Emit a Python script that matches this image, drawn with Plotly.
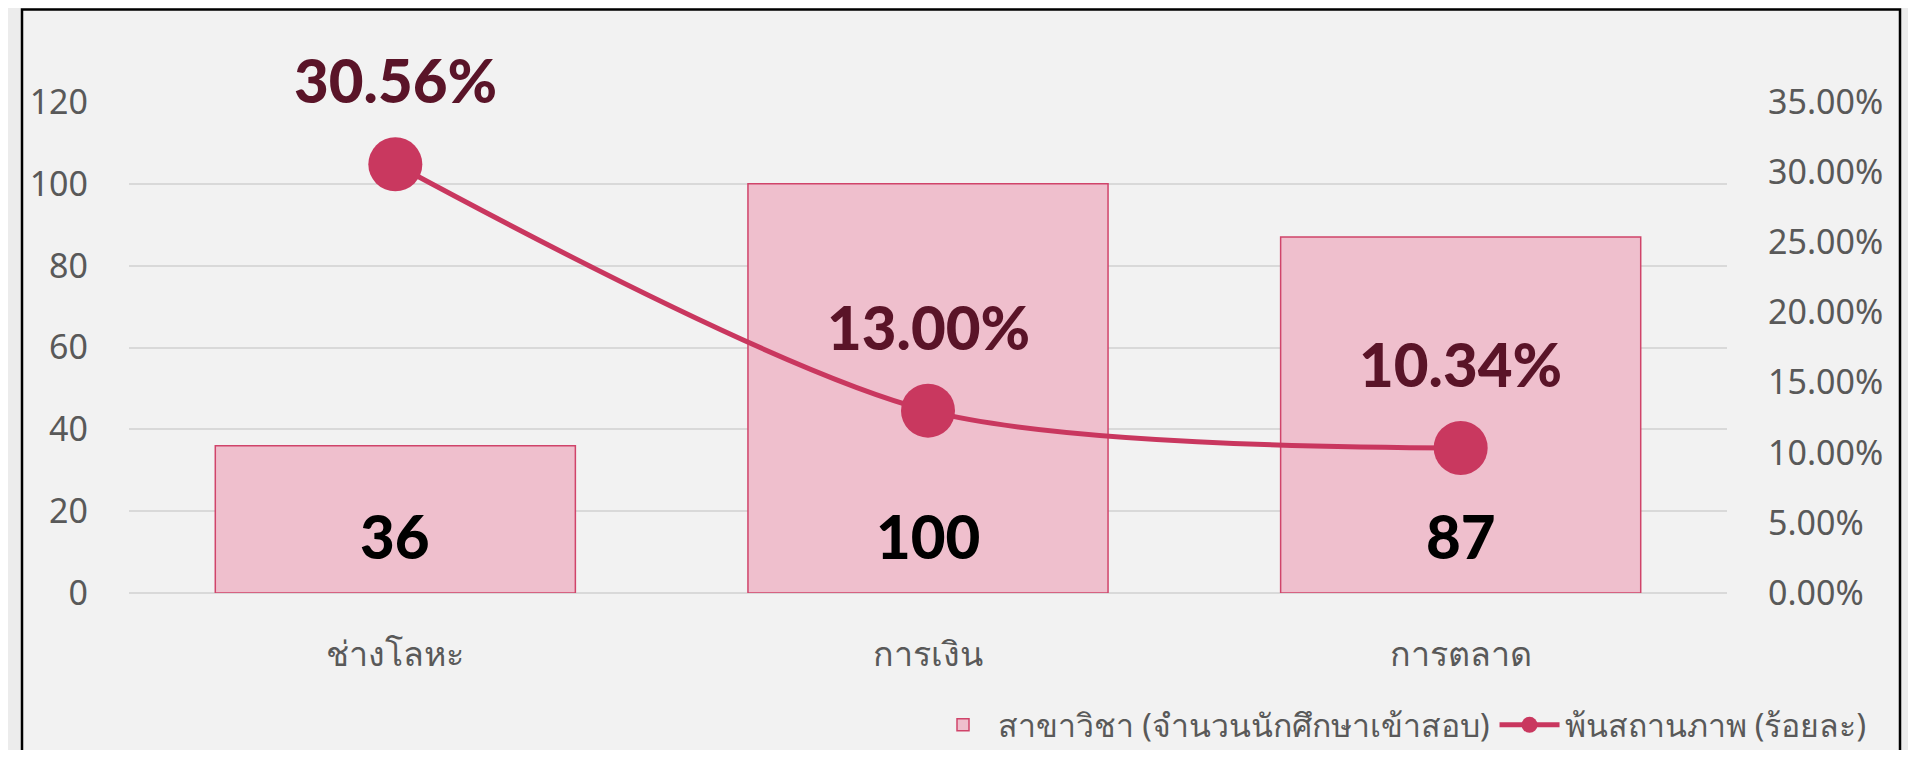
import plotly.graph_objects as go

categories = ["ช่างโลหะ", "การเงิน", "การตลาด"]
students = [36, 100, 87]
employment_rate = [0.3056, 0.13, 0.1034]
bar_name = "สาขาวิชา (จำนวนนักศึกษาเข้าสอบ)"
line_name = "พ้นสถานภาพ (ร้อยละ)"
left_ticks = [0, 20, 40, 60, 80, 100, 120]
right_ticks = [0, 0.05, 0.10, 0.15, 0.20, 0.25, 0.30, 0.35]

# figure is 1900x742; the page adds the default 8px body margin on each side
W, H = 1900, 742
OFF = 8
L, R, T, B = 121, 181, 94, 157
pw = W - L - R
ph = H - T - B

TICK_FONT = dict(family="Noto Sans, sans-serif", size=34, color="#595959")
LABEL_FONT = "Lato, Noto Sans, sans-serif"

fig = go.Figure()
fig.add_trace(go.Bar(
    x=categories, y=students, name=bar_name,
    marker=dict(color="#efbfcd", line=dict(color="#d0446a", width=1.5)),
    width=0.676, yaxis="y",
))
fig.add_trace(go.Scatter(
    x=categories, y=employment_rate, name=line_name, yaxis="y2",
    mode="lines+markers",
    line=dict(color="#c9375f", width=5, shape="spline", smoothing=0.8),
    marker=dict(color="#c9385f", size=54),
))

annotations = []
for c, v in zip(categories, students):
    annotations.append(dict(x=c, y=0, xref="x", yref="y", yshift=57,
                            text=f"{v}", showarrow=False,
                            font=dict(family=LABEL_FONT, size=60, weight=900,
                                      color="#000000")))
for c, p in zip(categories, employment_rate):
    annotations.append(dict(x=c, y=p, xref="x", yref="y2", yshift=84,
                            text=f"{p*100:.2f}%", showarrow=False,
                            font=dict(family=LABEL_FONT, size=60, weight=900,
                                      color="#5a1428")))


def px_x(p):
    return (p - OFF - L) / pw


def px_y(p):
    return (H - B - (p - OFF)) / ph


fig.update_layout(
    width=W, height=H,
    margin=dict(l=L, r=R, t=T, b=B, pad=0, autoexpand=False),
    paper_bgcolor="#ececec",
    plot_bgcolor="rgba(0,0,0,0)",
    showlegend=True,
    legend=dict(orientation="h", x=px_x(1872), xanchor="right",
                y=px_y(725), yanchor="middle",
                font=dict(family="Noto Sans, sans-serif", size=32, color="#595959"),
                bgcolor="rgba(0,0,0,0)", itemwidth=60, tracegroupgap=0),
    xaxis=dict(showgrid=False, showline=False, zeroline=False,
               tickfont=TICK_FONT, ticklabelstandoff=38),
    yaxis=dict(range=[0, 120], tickvals=left_ticks, showgrid=True,
               gridcolor="#d9d9d9", gridwidth=2, zeroline=True,
               zerolinecolor="#d9d9d9", zerolinewidth=2, showline=False,
               tickfont=TICK_FONT, ticklabelstandoff=40),
    yaxis2=dict(range=[0, 0.35], tickvals=right_ticks, tickformat=".2%",
                overlaying="y", side="right", showgrid=False, zeroline=False,
                showline=False, tickfont=TICK_FONT, ticklabelstandoff=40),
    annotations=annotations,
    shapes=[dict(type="rect", xref="paper", yref="paper",
                 x0=px_x(22), x1=px_x(1900), y0=px_y(800), y1=px_y(9.5),
                 fillcolor="#f2f2f2", line=dict(color="#000000", width=2.5),
                 layer="below")],
)

fig.write_html("out.html")
